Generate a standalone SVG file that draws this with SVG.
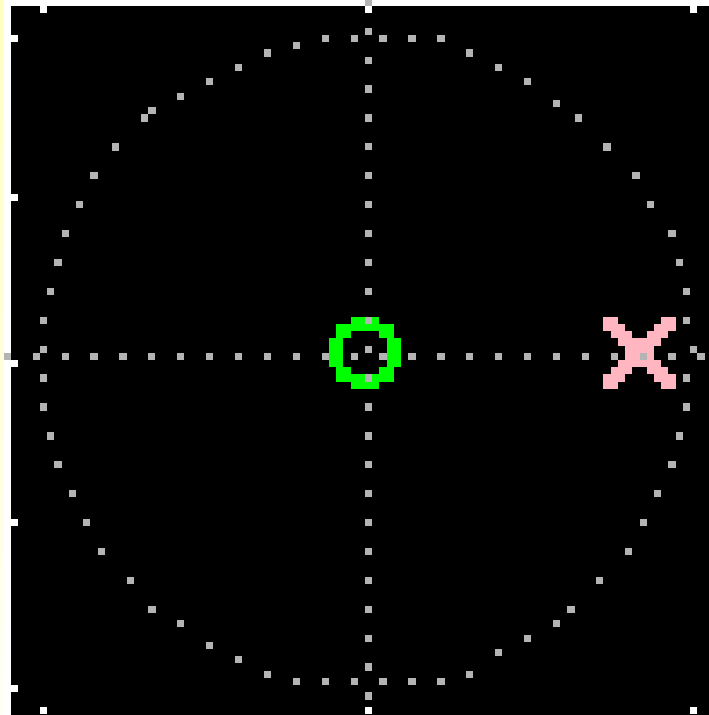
<svg xmlns="http://www.w3.org/2000/svg" width="709" height="715" viewBox="0 0 709 715" shape-rendering="crispEdges">
  <defs>
    <style>
      .dot { fill: #b4b4b4; }
      .tick { fill: #ffffff; }
      .ring { fill: #00ff00; }
      .cross { fill: #ffb6c1; }
      .guide { stroke: #b4b4b4; stroke-width: 1; stroke-dasharray: 1 3; fill: none; }
    </style>
    <linearGradient id="strip" x1="0" y1="0" x2="0" y2="1">
      <stop offset="0" stop-color="#ffffc0"/>
      <stop offset="1" stop-color="#fffff5"/>
    </linearGradient>
    <rect id="c" width="1" height="1"/>
  </defs>

  <g id="background">
    <rect x="0" y="0" width="709" height="715" fill="#000000"/>
    <rect x="0" y="0" width="11" height="715" fill="#ffffff"/>
    <rect x="0" y="0" width="709" height="6" fill="#ffffff"/>
    <rect x="0" y="0" width="3.8" height="715" fill="url(#strip)"/>
  </g>

  <g transform="translate(11 6) scale(7.225)">
    <g id="ticks" class="tick">
      <use href="#c" x="4" y="0"/><use href="#c" x="49" y="0"/><use href="#c" x="94" y="0"/>
      <use href="#c" x="4" y="97"/><use href="#c" x="49" y="97"/><use href="#c" x="94" y="97"/>
      <use href="#c" x="0" y="4"/><use href="#c" x="0" y="26"/><use href="#c" x="0" y="49"/>
      <use href="#c" x="0" y="71"/><use href="#c" x="0" y="94"/>
    </g>

    <g id="unit-circle" class="dot">
      <use href="#c" x="43" y="4"/><use href="#c" x="47" y="4"/><use href="#c" x="39" y="5"/>
      <use href="#c" x="35" y="6"/><use href="#c" x="31" y="8"/><use href="#c" x="27" y="10"/>
      <use href="#c" x="23" y="12"/><use href="#c" x="19" y="14"/><use href="#c" x="18" y="15"/>
      <use href="#c" x="14" y="19"/><use href="#c" x="11" y="23"/><use href="#c" x="9" y="27"/>
      <use href="#c" x="7" y="31"/><use href="#c" x="6" y="35"/><use href="#c" x="5" y="39"/>
      <use href="#c" x="4" y="43"/><use href="#c" x="4" y="47"/><use href="#c" x="4" y="51"/>
      <use href="#c" x="4" y="55"/><use href="#c" x="5" y="59"/><use href="#c" x="6" y="63"/>
      <use href="#c" x="8" y="67"/><use href="#c" x="10" y="71"/><use href="#c" x="12" y="75"/>
      <use href="#c" x="16" y="79"/><use href="#c" x="19" y="83"/><use href="#c" x="23" y="85"/>
      <use href="#c" x="27" y="88"/><use href="#c" x="31" y="90"/><use href="#c" x="35" y="92"/>
      <use href="#c" x="39" y="93"/><use href="#c" x="43" y="93"/><use href="#c" x="47" y="93"/>
      <use href="#c" x="51" y="4"/><use href="#c" x="55" y="4"/><use href="#c" x="59" y="4"/>
      <use href="#c" x="63" y="6"/><use href="#c" x="67" y="8"/><use href="#c" x="71" y="10"/>
      <use href="#c" x="75" y="13"/><use href="#c" x="78" y="15"/><use href="#c" x="82" y="19"/>
      <use href="#c" x="86" y="23"/><use href="#c" x="88" y="27"/><use href="#c" x="91" y="31"/>
      <use href="#c" x="92" y="35"/><use href="#c" x="93" y="39"/><use href="#c" x="93" y="43"/>
      <use href="#c" x="94" y="47"/><use href="#c" x="93" y="51"/><use href="#c" x="93" y="55"/>
      <use href="#c" x="92" y="59"/><use href="#c" x="91" y="63"/><use href="#c" x="89" y="67"/>
      <use href="#c" x="87" y="71"/><use href="#c" x="85" y="75"/><use href="#c" x="81" y="79"/>
      <use href="#c" x="77" y="83"/><use href="#c" x="75" y="85"/><use href="#c" x="71" y="87"/>
      <use href="#c" x="67" y="89"/><use href="#c" x="63" y="92"/><use href="#c" x="59" y="93"/>
      <use href="#c" x="55" y="93"/><use href="#c" x="51" y="93"/>
    </g>

    <g id="origin-marker" class="ring">
      <rect x="47" y="43" width="4" height="1"/>
      <rect x="45" y="44" width="8" height="1"/>
      <rect x="45" y="45" width="2" height="1"/><rect x="51" y="45" width="2" height="1"/>
      <rect x="44" y="46" width="2" height="4"/><rect x="52" y="46" width="2" height="4"/>
      <rect x="45" y="50" width="2" height="1"/><rect x="51" y="50" width="2" height="1"/>
      <rect x="45" y="51" width="8" height="1"/>
      <rect x="47" y="52" width="4" height="1"/>
    </g>

    <g id="target-marker" class="cross">
      <rect x="82" y="43" width="2" height="1"/><rect x="90" y="43" width="2" height="1"/>
      <rect x="82" y="44" width="3" height="1"/><rect x="89" y="44" width="3" height="1"/>
      <rect x="83" y="45" width="3" height="1"/><rect x="88" y="45" width="3" height="1"/>
      <rect x="84" y="46" width="6" height="1"/>
      <rect x="85" y="47" width="4" height="2"/>
      <rect x="84" y="49" width="6" height="1"/>
      <rect x="83" y="50" width="3" height="1"/><rect x="88" y="50" width="3" height="1"/>
      <rect x="82" y="51" width="3" height="1"/><rect x="89" y="51" width="3" height="1"/>
      <rect x="82" y="52" width="2" height="1"/><rect x="90" y="52" width="2" height="1"/>
    </g>

    <g id="connectors">
      <line class="guide" x1="-1" y1="48.5" x2="100" y2="48.5"/>
      <line class="guide" x1="49.5" y1="-1" x2="49.5" y2="100"/>
    </g>
  </g>
</svg>
